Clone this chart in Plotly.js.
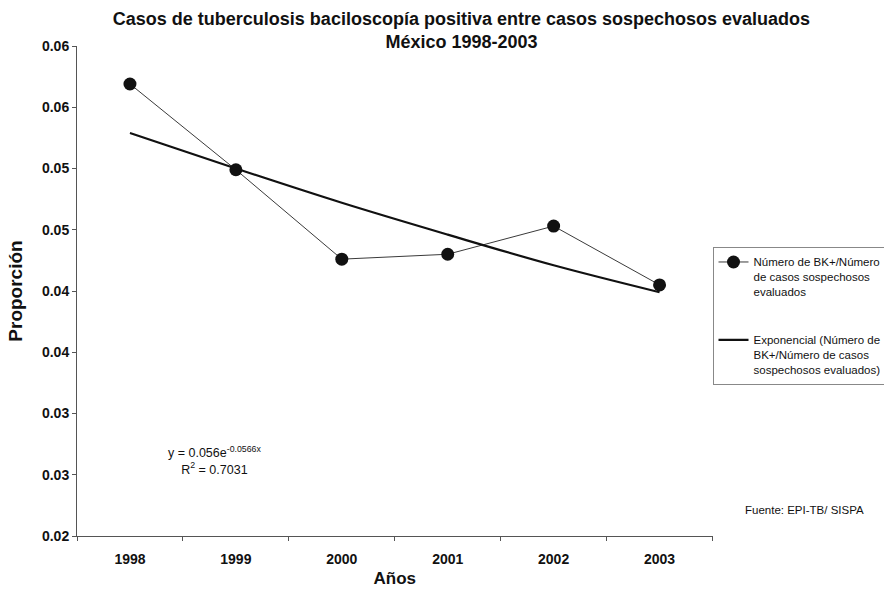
<!DOCTYPE html>
<html>
<head>
<meta charset="utf-8">
<script src="https://cdn.plot.ly/plotly-3.0.1.min.js"></script>
<style>html,body{margin:0;padding:0;background:#fff;}#chart{width:884px;height:595px;}</style>
</head>
<body>
<div id="chart"></div>
<script>
const years = ["1998", "1999", "2000", "2001", "2002", "2003"];
const proportion = [0.0569, 0.0499, 0.0426, 0.0430, 0.0453, 0.0405];
const trendValues = [0.0529, 0.0500, 0.0472, 0.0446, 0.0421, 0.0399];
const yTickVals = [0.020, 0.025, 0.030, 0.035, 0.040, 0.045, 0.050, 0.055, 0.060];
const yTickText = ["0.02", "0.03", "0.03", "0.04", "0.04", "0.05", "0.05", "0.06", "0.06"];
const seriesName = "Número de BK+/Número<br>de casos sospechosos<br>evaluados";
const trendName = "Exponencial (Número de<br>BK+/Número de casos<br>sospechosos evaluados)";

const SANS = "Liberation Sans, Arial, sans-serif";

const traces = [
  {
    x: years, y: proportion, type: "scatter", mode: "lines+markers",
    name: seriesName, legendgroup: "a",
    line: {color: "#3a3a3a", width: 1},
    marker: {color: "#111", size: 13, symbol: "circle"},
    cliponaxis: false
  },
  {
    x: years, y: trendValues, type: "scatter", mode: "lines",
    name: trendName, legendgroup: "b",
    line: {color: "#111", width: 2.2, shape: "spline"}
  }
];

const layout = {
  width: 884, height: 595,
  paper_bgcolor: "#fff", plot_bgcolor: "#fff",
  margin: {l: 77, r: 170, t: 46, b: 59},
  showlegend: true,
  title: {
    text: "<b>Casos de tuberculosis baciloscopía positiva entre casos sospechosos evaluados<br>México 1998-2003</b>",
    x: 0.522, xanchor: "center", y: 0.958, yanchor: "top", yref: "container",
    font: {family: SANS, size: 18, color: "#111"}
  },
  xaxis: {
    type: "category",
    range: [-0.5, 5.5],
    showline: true, linecolor: "#555", linewidth: 1,
    ticks: "outside", ticklen: 4, tickcolor: "#555", tickson: "boundaries",
    ticklabelstandoff: 10,
    showgrid: false, zeroline: false,
    tickfont: {family: SANS, size: 14, color: "#111", weight: "bold"},
    title: {text: "<b>Años</b>", standoff: 6, font: {family: SANS, size: 17, color: "#111"}}
  },
  yaxis: {
    range: [0.02, 0.06],
    tickvals: yTickVals, ticktext: yTickText,
    showline: true, linecolor: "#555", linewidth: 1,
    ticks: "outside", ticklen: 4, tickcolor: "#555",
    showgrid: false, zeroline: false,
    tickfont: {family: SANS, size: 14, color: "#111", weight: "bold"},
    title: {text: "<b>Proporción</b>", standoff: 14, font: {family: SANS, size: 19, color: "#111"}}
  },
  legend: {
    xref: "container", yref: "container",
    x: 0.806, xanchor: "left", y: 1 - 247 / 595, yanchor: "top",
    bordercolor: "#888", borderwidth: 1, bgcolor: "#fff",
    font: {family: SANS, size: 11.5, color: "#111"},
    valign: "top", tracegroupgap: 30, itemwidth: 30
  },
  annotations: [
    {
      xref: "paper", yref: "paper", x: (215 - 77) / 637, y: (536 - 460) / 490,
      xanchor: "center", yanchor: "middle",
      text: "y = 0.056e<sup>-0.0566x</sup><br>R<sup>2</sup> = 0.7031",
      showarrow: false, align: "center",
      font: {family: SANS, size: 12.5, color: "#111"}
    },
    {
      xref: "paper", yref: "paper", x: (806 - 77) / 637, y: (536 - 510) / 490,
      text: "Fuente: EPI-TB/ SISPA",
      showarrow: false, xanchor: "center", yanchor: "middle",
      font: {family: SANS, size: 11.5, color: "#111"}
    }
  ]
};

Plotly.newPlot("chart", traces, layout, {displayModeBar: false, staticPlot: true});
</script>
</body>
</html>
